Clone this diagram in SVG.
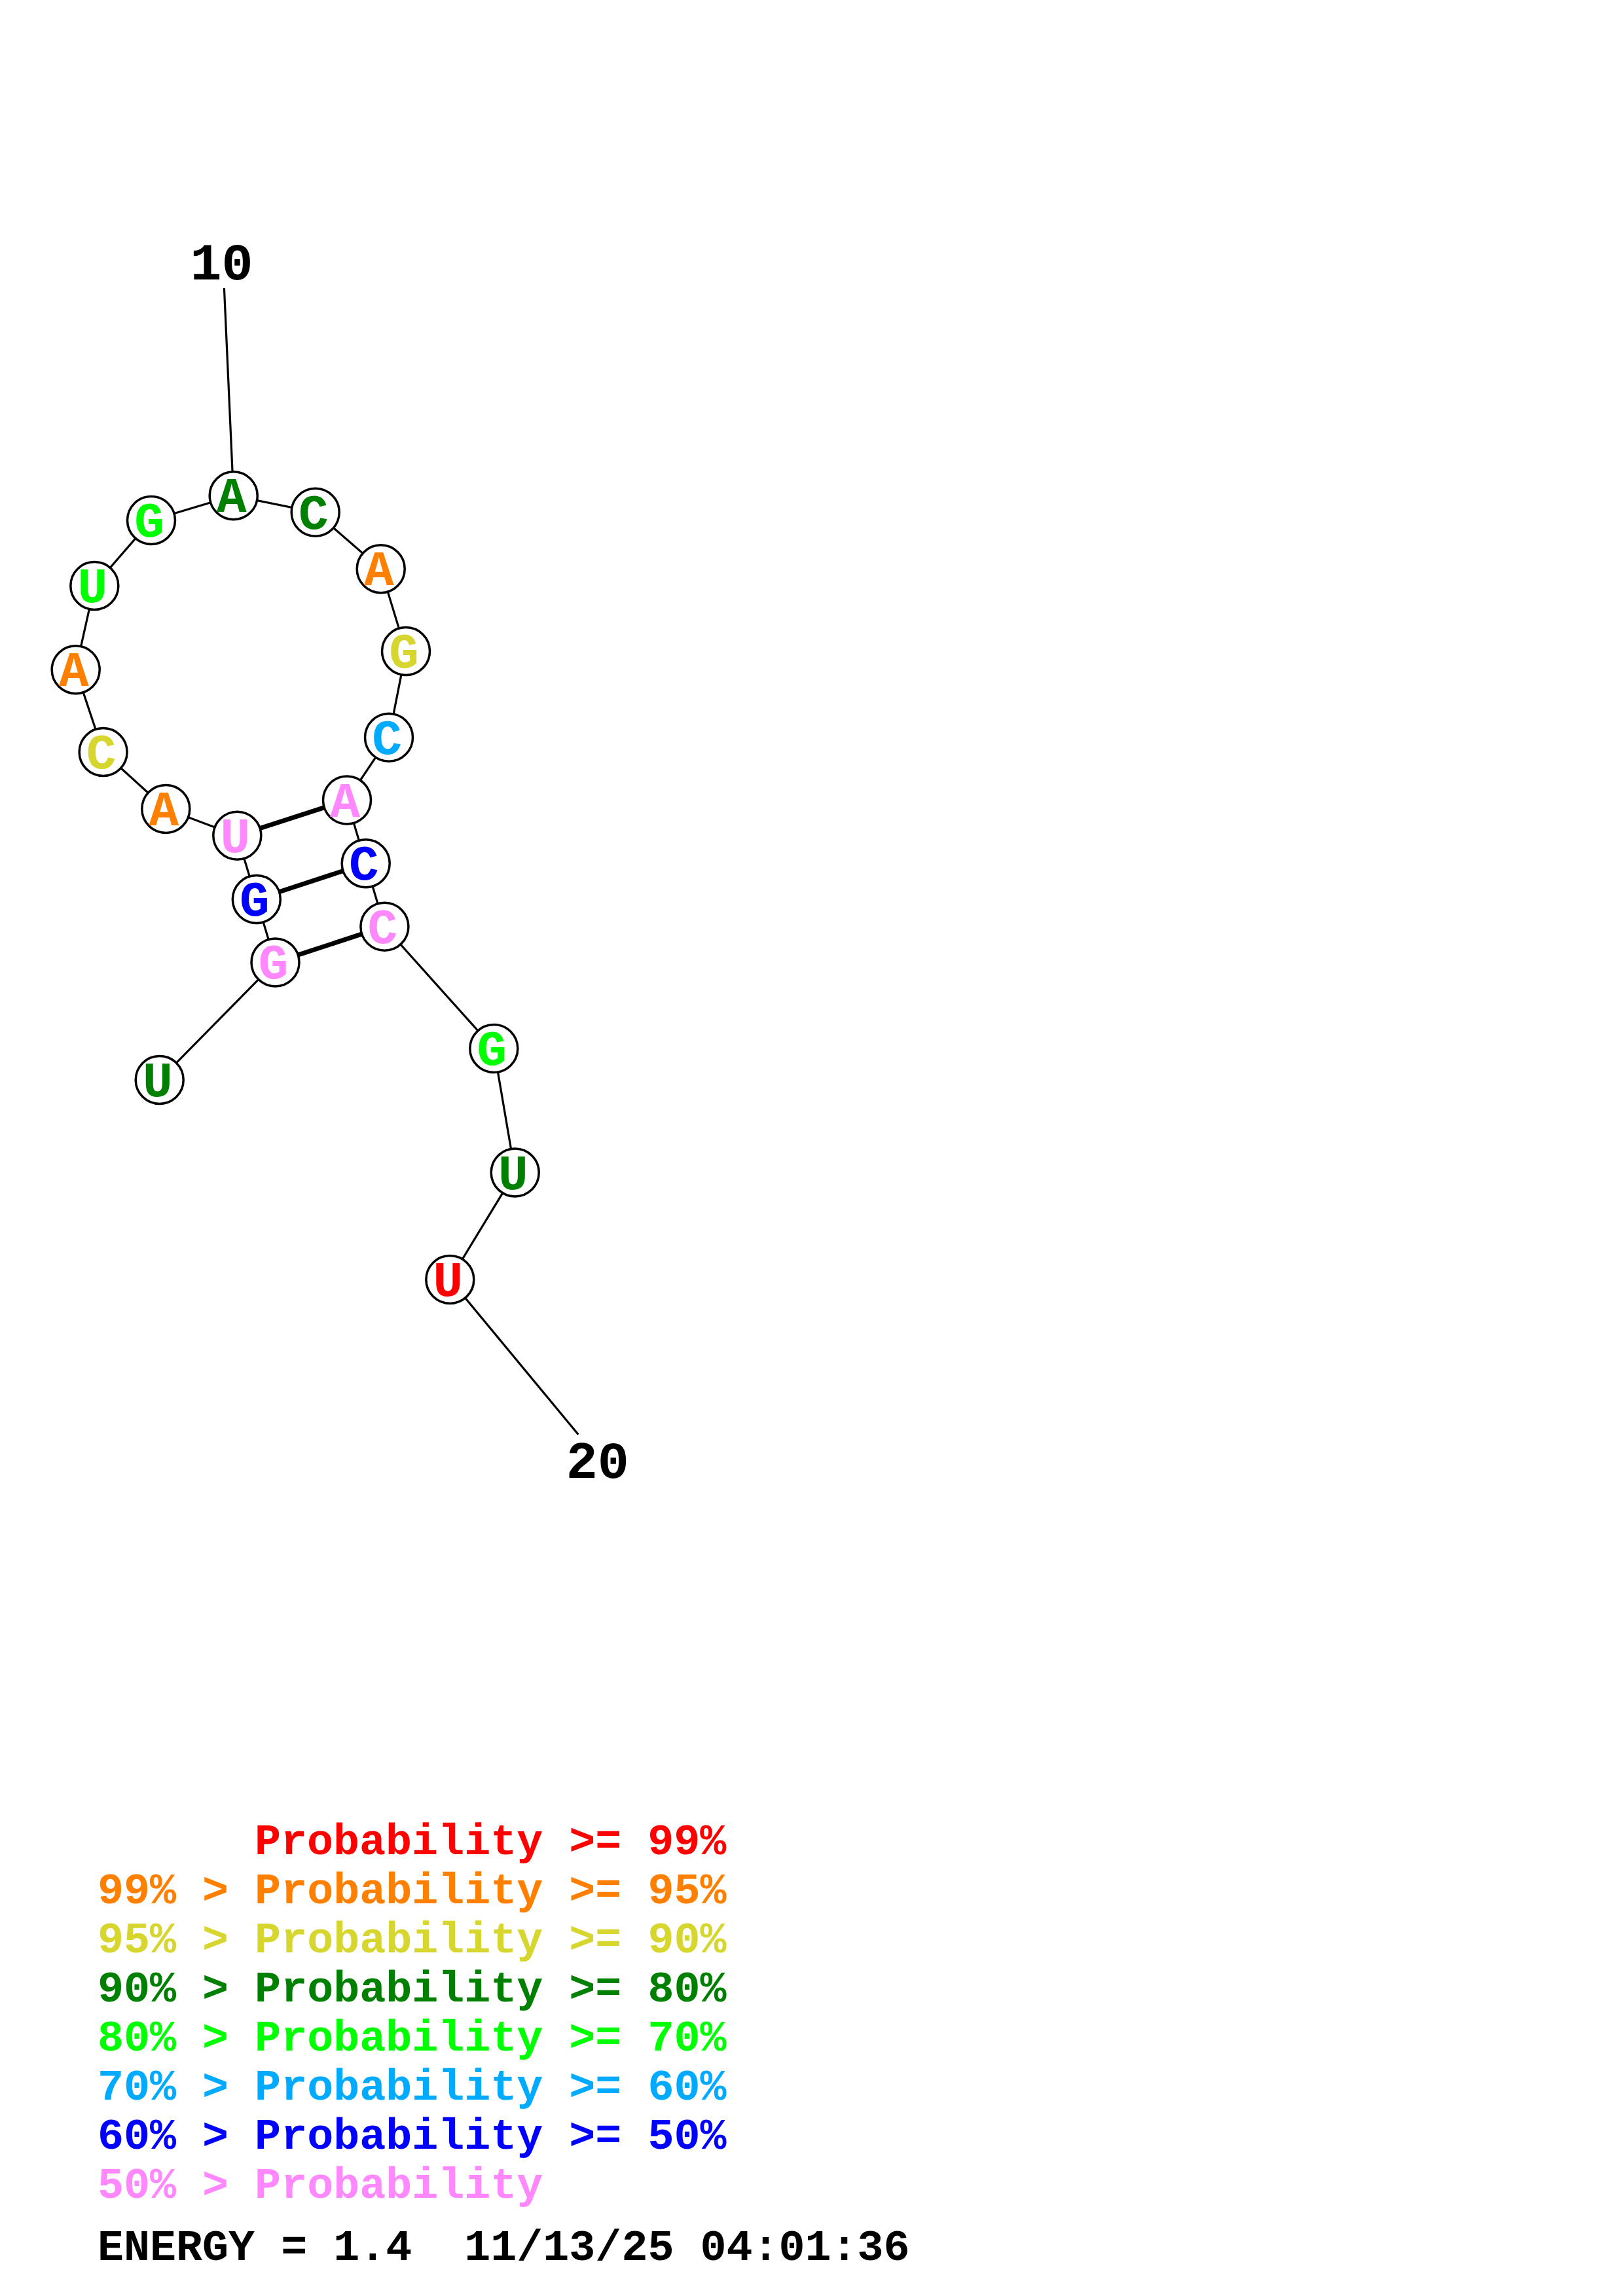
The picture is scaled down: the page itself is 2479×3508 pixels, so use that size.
<svg xmlns="http://www.w3.org/2000/svg" width="2479" height="3508" viewBox="0 0 2479 3508">
<style>
.bb{stroke:#000;stroke-width:3.2;fill:none}
.pr{stroke:#000;stroke-width:7;fill:none}
.nd{fill:#fff;stroke:#000;stroke-width:3.5}
.nt{font-family:"Liberation Mono","DejaVu Sans Mono",monospace;font-weight:bold;font-size:76px;text-anchor:middle}
.lb{font-family:"Liberation Mono","DejaVu Sans Mono",monospace;font-weight:bold;font-size:80px;text-anchor:middle;fill:#000}
.lg{font-family:"Liberation Mono","DejaVu Sans Mono",monospace;font-weight:bold;font-size:66.7px;white-space:pre}
.c1{fill:#FF0000}.c2{fill:#FF8000}.c3{fill:#D6D62E}.c4{fill:#008000}.c5{fill:#00FF00}.c6{fill:#00AAFF}.c7{fill:#0000FF}.c8{fill:#FF88FF}.c0{fill:#000}
</style>
<rect width="2479" height="3508" fill="#fff"/>
<g id="connectors">
<polyline class="bb" points="243.7,1650 420.5,1470.4 391.8,1374 362.3,1276.8 253.3,1235.9 157.6,1149 115.7,1023.3 144.3,895 231,795 356.7,757.3 481.7,782.7 581.7,869.3 620,995 594,1126.8 530,1222.5 558.7,1319.3 587.4,1415.7 754.3,1602 786.7,1791.5 687.3,1955"/>
<line class="bb" x1="342.4" y1="440" x2="356.7" y2="757.3"/>
<line class="bb" x1="687.3" y1="1955" x2="883.3" y2="2191.7"/>
<line class="pr" x1="362.3" y1="1276.8" x2="530" y2="1222.5"/>
<line class="pr" x1="391.8" y1="1374" x2="558.7" y2="1319.3"/>
<line class="pr" x1="420.5" y1="1470.4" x2="587.4" y2="1415.7"/>
</g>
<g id="n1"><circle class="nd" cx="243.7" cy="1650" r="36.5"/><text class="nt c4" x="240.7" y="1675">U</text></g>
<g id="n2"><circle class="nd" cx="420.5" cy="1470.4" r="36.5"/><text class="nt c8" x="417.5" y="1495.4">G</text></g>
<g id="n3"><circle class="nd" cx="391.8" cy="1374" r="36.5"/><text class="nt c7" x="388.8" y="1399">G</text></g>
<g id="n4"><circle class="nd" cx="362.3" cy="1276.8" r="36.5"/><text class="nt c8" x="359.3" y="1301.8">U</text></g>
<g id="n5"><circle class="nd" cx="253.3" cy="1235.9" r="36.5"/><text class="nt c2" x="250.3" y="1260.9">A</text></g>
<g id="n6"><circle class="nd" cx="157.6" cy="1149" r="36.5"/><text class="nt c3" x="154.6" y="1174">C</text></g>
<g id="n7"><circle class="nd" cx="115.7" cy="1023.3" r="36.5"/><text class="nt c2" x="112.7" y="1048.3">A</text></g>
<g id="n8"><circle class="nd" cx="144.3" cy="895" r="36.5"/><text class="nt c5" x="141.3" y="920">U</text></g>
<g id="n9"><circle class="nd" cx="231" cy="795" r="36.5"/><text class="nt c5" x="228" y="820">G</text></g>
<g id="n10"><circle class="nd" cx="356.7" cy="757.3" r="36.5"/><text class="nt c4" x="353.7" y="782.3">A</text></g>
<g id="n11"><circle class="nd" cx="481.7" cy="782.7" r="36.5"/><text class="nt c4" x="478.7" y="807.7">C</text></g>
<g id="n12"><circle class="nd" cx="581.7" cy="869.3" r="36.5"/><text class="nt c2" x="578.7" y="894.3">A</text></g>
<g id="n13"><circle class="nd" cx="620" cy="995" r="36.5"/><text class="nt c3" x="617" y="1020">G</text></g>
<g id="n14"><circle class="nd" cx="594" cy="1126.8" r="36.5"/><text class="nt c6" x="591" y="1151.8">C</text></g>
<g id="n15"><circle class="nd" cx="530" cy="1222.5" r="36.5"/><text class="nt c8" x="527" y="1247.5">A</text></g>
<g id="n16"><circle class="nd" cx="558.7" cy="1319.3" r="36.5"/><text class="nt c7" x="555.7" y="1344.3">C</text></g>
<g id="n17"><circle class="nd" cx="587.4" cy="1415.7" r="36.5"/><text class="nt c8" x="584.4" y="1440.7">C</text></g>
<g id="n18"><circle class="nd" cx="754.3" cy="1602" r="36.5"/><text class="nt c5" x="751.3" y="1627">G</text></g>
<g id="n19"><circle class="nd" cx="786.7" cy="1791.5" r="36.5"/><text class="nt c4" x="783.7" y="1816.5">U</text></g>
<g id="n20"><circle class="nd" cx="687.3" cy="1955" r="36.5"/><text class="nt c1" x="684.3" y="1980">U</text></g>
<g id="labels">
<text class="lb" x="338.5" y="427">10</text>
<text class="lb" x="912.8" y="2258">20</text>
</g>
<g id="legend">
<text class="lg c1" x="389" y="2832.7">Probability &gt;= 99%</text>
<text class="lg c2" x="149" y="2907.7">99% &gt; Probability &gt;= 95%</text>
<text class="lg c3" x="149" y="2982.7">95% &gt; Probability &gt;= 90%</text>
<text class="lg c4" x="149" y="3057.7">90% &gt; Probability &gt;= 80%</text>
<text class="lg c5" x="149" y="3132.7">80% &gt; Probability &gt;= 70%</text>
<text class="lg c6" x="149" y="3207.7">70% &gt; Probability &gt;= 60%</text>
<text class="lg c7" x="149" y="3282.7">60% &gt; Probability &gt;= 50%</text>
<text class="lg c8" x="149" y="3357.7">50% &gt; Probability</text>
<text class="lg c0" x="149" y="3453">ENERGY = 1.4  11/13/25 04:01:36</text>
</g>
</svg>
